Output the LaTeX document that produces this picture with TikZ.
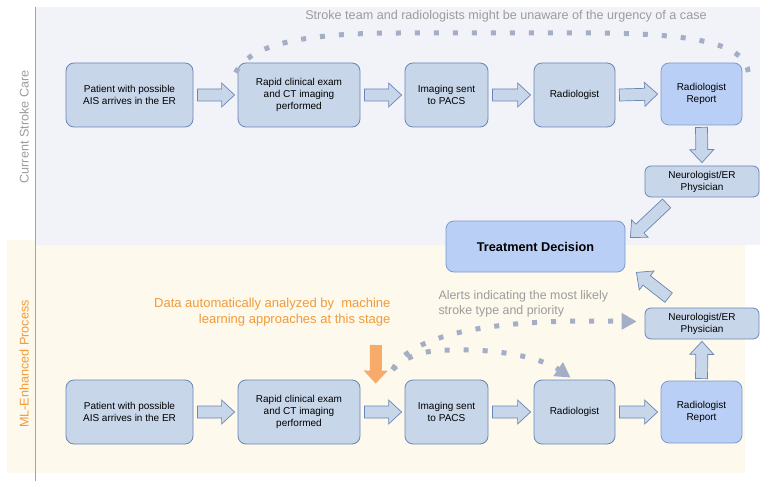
\documentclass[tikz,border=0pt]{standalone}
\usepackage{fontspec}
\setmainfont{Liberation Sans}
\usetikzlibrary{calc,arrows.meta}

\definecolor{boxfill}{HTML}{C8D6EA}
\definecolor{boxline}{HTML}{6A86B5}
\definecolor{hifill}{HTML}{BACFF5}
\definecolor{hiline}{HTML}{7E99CF}
\definecolor{topbg}{HTML}{F1F3F8}
\definecolor{botbg}{HTML}{FDF9EC}
\definecolor{sideline}{HTML}{8EA6D3}
\definecolor{greytxt}{HTML}{9C9C9C}
\definecolor{orangetxt}{HTML}{F29B3A}
\definecolor{orangearr}{HTML}{F6AB6B}
\definecolor{dotcol}{HTML}{A4AFC7}

% block arrow from #2 to #3
\newcommand\fatarrow[3][]{%
\draw[fatarr,#1] ($(#2)!6pt!90:(#3)$) -- ($(#3)!13pt!(#2)!6pt!-90:(#2)$)
  -- ($(#3)!13pt!(#2)!12pt!-90:(#2)$) -- (#3)
  -- ($(#3)!13pt!(#2)!12pt!90:(#2)$) -- ($(#3)!13pt!(#2)!6pt!90:(#2)$)
  -- ($(#2)!6pt!-90:(#3)$) -- cycle;}

\begin{document}
\begin{tikzpicture}[x=1pt,y=-1pt,
  stepbox/.style={draw=boxline,fill=boxfill,rounded corners=8pt,line width=0.8pt,
    align=center,font=\fontsize{10}{12}\selectfont,inner sep=2pt},
  hibox/.style={stepbox,draw=hiline,fill=hifill},
  fatarr/.style={draw=boxline,fill=boxfill,line width=0.7pt,line join=miter},
  dots/.style={dotcol,line width=5pt,dash pattern=on 5pt off 14pt},
  note/.style={greytxt,font=\fontsize{12.6}{14.5}\selectfont}]
\useasboundingbox (0,0) rectangle (760,481);

% panels
\fill[botbg] (7,240) rectangle (745,473);
\fill[topbg] (35,7) rectangle (760,245);
\draw[sideline,line width=1pt] (35,7) -- (35,481);
\node[rotate=90,greytxt,font=\fontsize{12.6}{14}\selectfont] (lbl1) at (24,127) {Current Stroke Care};
\node[rotate=90,orangetxt,font=\fontsize{12.6}{14}\selectfont] (lbl2) at (24,364) {ML-Enhanced Process};

% current stroke care
\node[stepbox,minimum width=127pt,minimum height=64pt] (p1) at (129.5,95) {Patient with possible\\AIS arrives in the ER};
\node[stepbox,minimum width=122pt,minimum height=64pt] (r1) at (299,95) {Rapid clinical exam\\and CT imaging\\performed};
\node[stepbox,minimum width=83pt,minimum height=64pt] (i1) at (446.5,95) {Imaging sent\\to PACS};
\node[stepbox,minimum width=81pt,minimum height=64pt] (rad1) at (574.5,95) {Radiologist};
\node[hibox,minimum width=81pt,minimum height=62pt] (rep1) at (701.5,94) {Radiologist\\Report};
\node[stepbox,rounded corners=6pt,minimum width=114pt,minimum height=31pt] (n1) at (702,181.5) {Neurologist/ER\\Physician};

\node[hibox,minimum width=179pt,minimum height=51pt,font=\fontsize{12.7}{14}\selectfont\bfseries] (td) at (535.5,246.5) {Treatment Decision};

% ml-enhanced process
\node[stepbox,minimum width=127pt,minimum height=64pt] (p2) at (129.5,412) {Patient with possible\\AIS arrives in the ER};
\node[stepbox,minimum width=122pt,minimum height=64pt] (r2) at (299,412) {Rapid clinical exam\\and CT imaging\\performed};
\node[stepbox,minimum width=83pt,minimum height=64pt] (i2) at (446.5,412) {Imaging sent\\to PACS};
\node[stepbox,minimum width=81pt,minimum height=64pt] (rad2) at (574.5,412) {Radiologist};
\node[hibox,minimum width=81pt,minimum height=62pt] (rep2) at (701.5,412) {Radiologist\\Report};
\node[stepbox,rounded corners=6pt,minimum width=114pt,minimum height=31pt] (n2) at (702,323.5) {Neurologist/ER\\Physician};

% arrows along the rows
\foreach \a/\b in {p1/r1,r1/i1,i1/rad1,rad1/rep1,p2/r2,r2/i2,i2/rad2,rad2/rep2} {
  \coordinate (s) at ($(\a.east)+(4,0)$);
  \coordinate (e) at ($(\b.west)+(-3,0)$);
  \fatarrow{s}{e}
}
\coordinate (s) at ($(rep1.south)+(0,2)$);
\coordinate (e) at ($(n1.north)+(0,-3)$);
\fatarrow{s}{e}
\coordinate (s) at ($(n1.south west)+(22,6)$);
\coordinate (e) at ($(td.east)+(5,-9)$);
\fatarrow{s}{e}
\coordinate (s) at ($(rep2.north)+(0,-2)$);
\coordinate (e) at ($(n2.south)+(0,2)$);
\fatarrow{s}{e}
\coordinate (s) at ($(n2.north west)+(24,-10)$);
\coordinate (e) at ($(td.south east)+(11,0)$);
\fatarrow{s}{e}

% ml arrow
\coordinate (ml) at (376,345);
\coordinate (mlend) at ($(i2.north west)+(-29,4)$);
\fatarrow[draw=none,fill=orangearr]{ml}{mlend}

% notes
\node[note,anchor=base] (warn) at (506,20) {Stroke team and radiologists might be unaware of the urgency of a case};
\node[orangetxt,font=\fontsize{13}{15.5}\selectfont,align=right,anchor=north east] (mltxt) at (394,295) {Data automatically analyzed by\ \ machine\\learning approaches at this stage};
\node[note,font=\fontsize{12.4}{14.5}\selectfont,align=left,anchor=north west] (alert) at (435,287) {Alerts indicating the most likely\\stroke type and priority};

% dotted paths
\coordinate (d1) at ($(r1.north west)+(-2,10)$);
\coordinate (d2) at ($(rep1.north east)+(6,10)$);
\draw[dots] (d1) .. controls (250,45) and (300,33) .. (400,33) -- (600,33) .. controls (700,34) and (745,45) .. (d2);
\coordinate (d3) at ($(i2.north west)+(-12,-10)$);
\draw[dots,-{Triangle[length=15pt,width=16pt]}] (d3) .. controls (408,340) and (470,321) .. (590,321) -- ($(n2.west)+(-8,-2)$);
\draw[dots,-{Triangle[length=15pt,width=16pt]}] (d3) .. controls (415,348) and (440,350) .. (470,350) .. controls (510,351) and (545,360) .. ($(rad2.north)+(-4,-2)$);
\end{tikzpicture}
\end{document}
